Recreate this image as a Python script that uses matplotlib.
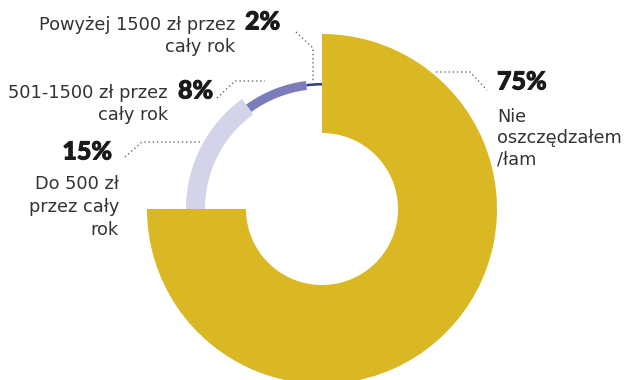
import matplotlib.pyplot as plt
import matplotlib.patheffects as pe

# data
labels = ["Nie\noszczędzałem\n/łam", "Do 500 zł\nprzez cały\nrok",
          "501-1500 zł przez\ncały rok", "Powyżej 1500 zł przez\ncały rok"]
values = [75, 15, 8, 2]
pct_text = ["75%", "15%", "8%", "2%"]
colors = ["#DAB823", "#D3D3EA", "#7B7DBB", "#2E3A8C"]
outer_r = [175, 136, 129, 126]
ring_w = [99, 19, 9, 2.5]

W, H = 632, 380
fig = plt.figure(figsize=(W / 100, H / 100), dpi=100)
ax = fig.add_axes([0, 0, 1, 1])

cx, cy = 322, H - 209

for i in range(len(values)):
    cols = ["none"] * len(values)
    cols[i] = colors[i]
    ax.pie(values, colors=cols, radius=outer_r[i], center=(cx, cy),
           startangle=90, counterclock=False,
           wedgeprops=dict(width=ring_w[i], linewidth=0))

ax.set_xlim(0, W)
ax.set_ylim(0, H)
ax.set_aspect("equal")
ax.axis("off")

txt_font = "DejaVu Sans"
pct_font = ["Lato", "DejaVu Sans"]
tcol = "#333333"
fs = 12.8
pfs = 18
heavy = [pe.withStroke(linewidth=0.7, foreground="#1a1a1a")]

def Y(y):
    return H - y

# leader lines (pixel coordinates of the layout)
lead = dict(color="#666666", linestyle=(0, (1, 2)), linewidth=1)
ax.plot([296, 313, 313], [Y(32), Y(48), Y(82)], **lead)
ax.plot([217, 235, 265], [Y(98), Y(81), Y(81)], **lead)
ax.plot([125, 142, 200], [Y(157), Y(142), Y(142)], **lead)
ax.plot([436, 470, 487], [Y(72), Y(72), Y(90)], **lead)

pct_kw = dict(fontsize=pfs, fontweight="black", family=pct_font,
              color="#1a1a1a", va="center", path_effects=heavy)
lab_kw = dict(fontsize=fs, family=txt_font, color=tcol, va="center")

# 75%
ax.text(497, Y(82), pct_text[0], ha="left", **pct_kw)
ax.text(497, Y(138), labels[0], ha="left", linespacing=1.25, **lab_kw)

# 15%
ax.text(112, Y(152), pct_text[1], ha="right", **pct_kw)
ax.text(119, Y(207), labels[1], ha="right", linespacing=1.36,
        multialignment="right", **lab_kw)

# 8%
ax.text(178, Y(91), pct_text[2], ha="left", **pct_kw)
ax.text(168, Y(104), labels[2], ha="right", linespacing=1.25,
        multialignment="right", **lab_kw)

# 2%
ax.text(245, Y(22), pct_text[3], ha="left", **pct_kw)
ax.text(235, Y(36), labels[3], ha="right", linespacing=1.25,
        multialignment="right", **lab_kw)

fig.savefig("out.png", dpi=100)
